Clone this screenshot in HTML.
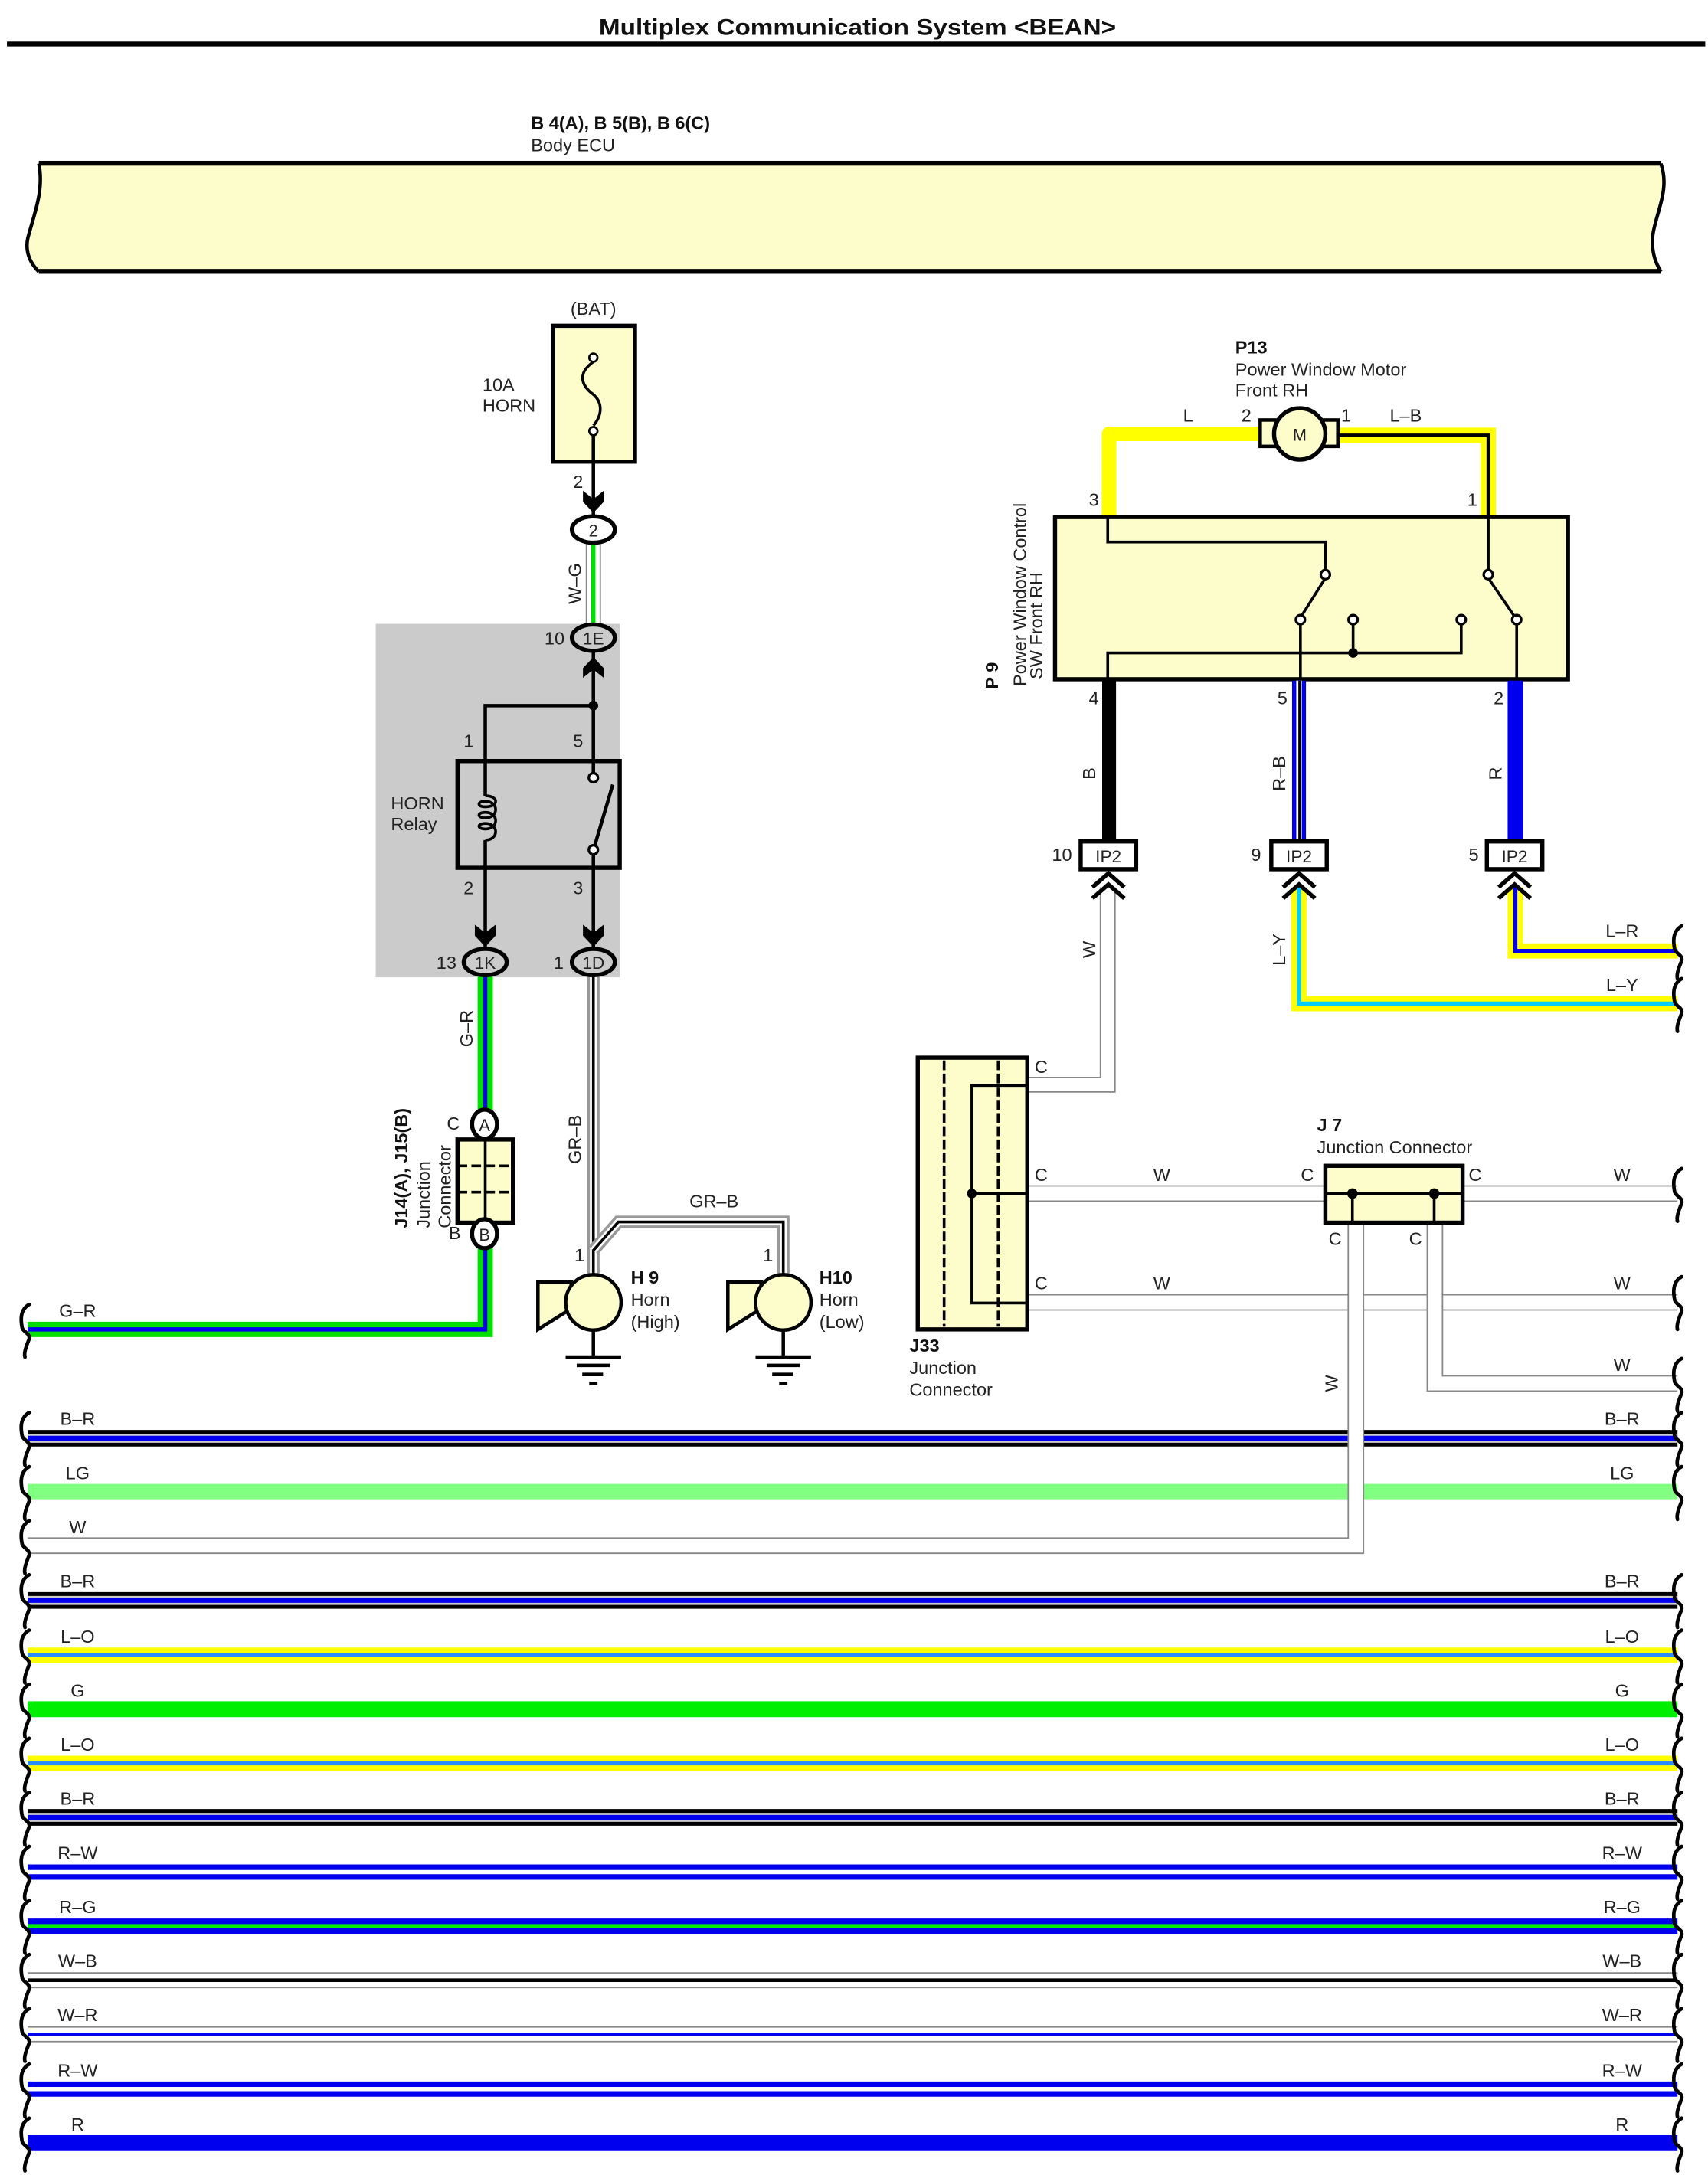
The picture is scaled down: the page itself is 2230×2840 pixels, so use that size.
<!DOCTYPE html>
<html><head><meta charset="utf-8"><style>
html,body{margin:0;padding:0;background:#fff;}
svg{display:block;}
text{font-family:"Liberation Sans",Arial,sans-serif;fill:#222;}
.b{font-weight:bold;fill:#111;}
</style></head><body>
<svg width="2230" height="2840" viewBox="0 0 1232 1569" preserveAspectRatio="none" xmlns="http://www.w3.org/2000/svg">
<rect width="1232" height="1569" fill="#fff"/>
<!-- title -->
<text x="432" y="25" font-size="16.5" class="b" textLength="373" lengthAdjust="spacingAndGlyphs">Multiplex Communication System &lt;BEAN&gt;</text>
<rect x="5" y="30" width="1225" height="3.5" fill="#000"/>

<!-- ECU -->
<text x="383" y="93" font-size="13" class="b">B 4(A), B 5(B), B 6(C)</text>
<text x="383" y="109" font-size="13">Body ECU</text>
<path d="M28,118 L1198,118 C1206,140 1190,160 1192,178 C1193,188 1196,192 1198,196 L28,196 C22,190 18,182 20,172 C24,156 32,138 28,118 Z" fill="#fdfdcb" stroke="none"/>
<path d="M28,118 C32,138 24,156 20,172 C18,182 22,190 28,196" fill="none" stroke="#000" stroke-width="2.5"/>
<path d="M1198,118 C1206,140 1190,160 1192,178 C1193,188 1196,192 1198,196" fill="none" stroke="#000" stroke-width="2.5"/>
<rect x="28" y="116" width="1170" height="3.5" fill="#000"/>
<rect x="28" y="194" width="1170" height="3.5" fill="#000"/>

<!-- gray relay area -->
<rect x="271" y="450" width="176" height="255" fill="#cbcbcb"/>

<!-- fuse -->
<text x="428" y="227" font-size="13" text-anchor="middle">(BAT)</text>
<text x="348" y="282" font-size="13">10A</text>
<text x="348" y="297" font-size="13">HORN</text>
<rect x="399" y="235" width="59" height="98" fill="#fdfdcb" stroke="#000" stroke-width="3"/>
<path d="M428,261 C418,268 418,276 426,283 C436,290 434,300 428,307" fill="none" stroke="#000" stroke-width="2"/>
<circle cx="428" cy="258" r="3" fill="#fff" stroke="#000" stroke-width="1.5"/>
<circle cx="428" cy="311" r="3" fill="#fff" stroke="#000" stroke-width="1.5"/>
<line x1="428" y1="314" x2="428" y2="372" stroke="#000" stroke-width="2.5"/>
<text x="417" y="352" font-size="13" text-anchor="middle">2</text>
<path d="M420.5,354 L428,360 L435.5,354 L435.5,362 L428,370 L420.5,362 Z" fill="#000"/>

<!-- W-G -->
<line x1="428" y1="390" x2="428" y2="452" stroke="#888" stroke-width="11"/>
<line x1="428" y1="390" x2="428" y2="452" stroke="#fff" stroke-width="9"/>
<line x1="428" y1="390" x2="428" y2="452" stroke="#00dd00" stroke-width="3"/>
<text transform="translate(419,421) rotate(-90)" font-size="13" text-anchor="middle">W–G</text>
<ellipse cx="428" cy="382" rx="15.5" ry="9.5" fill="#fff" stroke="#000" stroke-width="3"/>
<text x="428" y="387" font-size="12" text-anchor="middle">2</text>

<!-- 1E -->
<text x="400" y="465" font-size="13" text-anchor="middle">10</text>
<line x1="428" y1="470" x2="428" y2="548" stroke="#000" stroke-width="2.5"/>
<path d="M420.5,489 L428,483 L435.5,489 L435.5,482 L428,474 L420.5,482 Z" fill="#000"/>
<ellipse cx="428" cy="460" rx="15.5" ry="9.5" fill="#cbcbcb" stroke="#000" stroke-width="3"/>
<text x="428" y="465" font-size="12.5" text-anchor="middle">1E</text>

<!-- relay -->
<polyline points="428,509 350,509 350,548" fill="none" stroke="#000" stroke-width="2.5"/>
<circle cx="428" cy="509" r="3.5" fill="#000"/>
<text x="338" y="539" font-size="13" text-anchor="middle">1</text>
<text x="417" y="539" font-size="13" text-anchor="middle">5</text>
<text x="282" y="584" font-size="13">HORN</text>
<text x="282" y="599" font-size="13">Relay</text>
<rect x="330" y="549" width="117" height="77" fill="#cbcbcb" stroke="#000" stroke-width="3"/>
<line x1="350" y1="549" x2="350" y2="574" stroke="#000" stroke-width="2.5"/>
<line x1="350" y1="606" x2="350" y2="626" stroke="#000" stroke-width="2.5"/>
<path d="M350,574 C360,574 360,582 350,582 C344,582 344,578 350,578 C360,578 360,590 350,590 C344,590 344,586 350,586 C360,586 360,598 350,598 C344,598 344,594 350,594 C360,594 360,606 350,606" fill="none" stroke="#000" stroke-width="2"/>
<line x1="428" y1="549" x2="428" y2="558" stroke="#000" stroke-width="2.5"/>
<line x1="428" y1="617" x2="428" y2="626" stroke="#000" stroke-width="2.5"/>
<line x1="429" y1="610" x2="442" y2="566" stroke="#000" stroke-width="2.5"/>
<circle cx="428" cy="561" r="3.3" fill="#fff" stroke="#000" stroke-width="1.8"/>
<circle cx="428" cy="613" r="3.3" fill="#fff" stroke="#000" stroke-width="1.8"/>
<text x="338" y="645" font-size="13" text-anchor="middle">2</text>
<text x="417" y="645" font-size="13" text-anchor="middle">3</text>
<line x1="350" y1="626" x2="350" y2="686" stroke="#000" stroke-width="2.5"/>
<line x1="428" y1="626" x2="428" y2="686" stroke="#000" stroke-width="2.5"/>
<path d="M342.5,667 L350,673 L357.5,667 L357.5,675 L350,683 L342.5,675 Z" fill="#000"/>
<path d="M420.5,667 L428,673 L435.5,667 L435.5,675 L428,683 L420.5,675 Z" fill="#000"/>

<!-- G-R wire -->
<polyline points="350,703 350,959 20,959" fill="none" stroke="#00e000" stroke-width="11"/>
<polyline points="350,703 350,959 20,959" fill="none" stroke="#0000ee" stroke-width="3"/>
<text transform="translate(341,742) rotate(-90)" font-size="13" text-anchor="middle">G–R</text>
<text x="56" y="950" font-size="13" text-anchor="middle">G–R</text>
<!-- GR-B wire -->
<polyline points="428,703 428,919" fill="none" stroke="#999" stroke-width="9"/>
<polyline points="428,703 428,919" fill="none" stroke="#fff" stroke-width="5"/>
<polyline points="428,703 428,919" fill="none" stroke="#000" stroke-width="2"/>
<polyline points="428,902 446,881.5 565,881.5 565,919" fill="none" stroke="#999" stroke-width="9"/>
<polyline points="428,902 446,881.5 565,881.5 565,919" fill="none" stroke="#fff" stroke-width="5"/>
<polyline points="428,902 446,881.5 565,881.5 565,919" fill="none" stroke="#000" stroke-width="2"/>
<text transform="translate(419,822) rotate(-90)" font-size="13" text-anchor="middle">GR–B</text>
<text x="515" y="871" font-size="13" text-anchor="middle">GR–B</text>
<text x="418" y="910" font-size="13" text-anchor="middle">1</text>
<text x="554" y="910" font-size="13" text-anchor="middle">1</text>

<ellipse cx="350" cy="694" rx="15.5" ry="9.5" fill="#cbcbcb" stroke="#000" stroke-width="3"/>
<text x="350" y="699" font-size="12.5" text-anchor="middle">1K</text>
<ellipse cx="428" cy="694" rx="15.5" ry="9.5" fill="#cbcbcb" stroke="#000" stroke-width="3"/>
<text x="428" y="699" font-size="12.5" text-anchor="middle">1D</text>
<text x="322" y="699" font-size="13" text-anchor="middle">13</text>
<text x="403" y="699" font-size="13" text-anchor="middle">1</text>

<!-- J14 -->
<rect x="330" y="822" width="40" height="60" fill="#fdfdcb" stroke="#000" stroke-width="3"/>
<line x1="350" y1="822" x2="350" y2="882" stroke="#000" stroke-width="2"/>
<line x1="330" y1="841" x2="370" y2="841" stroke="#000" stroke-width="2" stroke-dasharray="7,3"/>
<line x1="330" y1="860" x2="370" y2="860" stroke="#000" stroke-width="2" stroke-dasharray="7,3"/>
<ellipse cx="349.5" cy="811" rx="9" ry="10.5" fill="#fff" stroke="#000" stroke-width="3"/>
<text x="349.5" y="816" font-size="12" text-anchor="middle">A</text>
<ellipse cx="349.5" cy="890" rx="9" ry="10.5" fill="#fff" stroke="#000" stroke-width="3"/>
<text x="349.5" y="895" font-size="12" text-anchor="middle">B</text>
<text x="327" y="815" font-size="13" text-anchor="middle">C</text>
<text x="328" y="894" font-size="13" text-anchor="middle">B</text>
<text transform="translate(294,886) rotate(-90)" font-size="13" class="b">J14(A), J15(B)</text>
<text transform="translate(310,886) rotate(-90)" font-size="13">Junction</text>
<text transform="translate(325,886) rotate(-90)" font-size="13">Connector</text>

<!-- Horns -->
<g stroke="#000" stroke-width="2.5" fill="#fdfdcb">
<polygon points="388,925 412,925 412,944 388,959"/>
<circle cx="428" cy="939.5" r="20"/>
<polygon points="525,925 549,925 549,944 525,959"/>
<circle cx="565" cy="939.5" r="20"/>
</g>
<g stroke="#000" stroke-width="2.5">
<line x1="428" y1="960" x2="428" y2="979"/>
<line x1="408" y1="979" x2="448" y2="979"/>
<line x1="416" y1="985" x2="440" y2="985"/>
<line x1="420" y1="991.5" x2="435" y2="991.5"/>
<line x1="425" y1="998" x2="431" y2="998"/>
<line x1="565" y1="960" x2="565" y2="979"/>
<line x1="545" y1="979" x2="585" y2="979"/>
<line x1="553" y1="985" x2="577" y2="985"/>
<line x1="557" y1="991.5" x2="572" y2="991.5"/>
<line x1="562" y1="998" x2="568" y2="998"/>
</g>
<text x="455" y="926" font-size="13" class="b">H 9</text>
<text x="455" y="942" font-size="13">Horn</text>
<text x="455" y="958" font-size="13">(High)</text>
<text x="591" y="926" font-size="13" class="b">H10</text>
<text x="591" y="942" font-size="13">Horn</text>
<text x="591" y="958" font-size="13">(Low)</text>

<!-- P13 motor -->
<text x="891" y="255" font-size="13" class="b">P13</text>
<text x="891" y="271" font-size="13">Power Window Motor</text>
<text x="891" y="286" font-size="13">Front RH</text>
<polyline points="909,313 800,313 800,373" fill="none" stroke="#ffff00" stroke-width="10.5" stroke-linejoin="round"/>
<polyline points="965,314 1073.5,314 1073.5,373" fill="none" stroke="#ffff00" stroke-width="11"/>
<polyline points="965,314 1073.5,314 1073.5,373" fill="none" stroke="#000" stroke-width="2.5"/>
<rect x="909" y="303" width="15" height="19" fill="#fdfdcb" stroke="#000" stroke-width="2.5"/>
<rect x="951" y="303" width="14" height="19" fill="#fdfdcb" stroke="#000" stroke-width="2.5"/>
<circle cx="937.5" cy="313" r="18.5" fill="#fdfdcb" stroke="#000" stroke-width="3"/>
<text x="937.5" y="318" font-size="12" text-anchor="middle">M</text>
<text x="857" y="304" font-size="13" text-anchor="middle">L</text>
<text x="899" y="304" font-size="13" text-anchor="middle">2</text>
<text x="971" y="304" font-size="13" text-anchor="middle">1</text>
<text x="1014" y="304" font-size="13" text-anchor="middle">L–B</text>
<text x="789" y="365" font-size="13" text-anchor="middle">3</text>
<text x="1062" y="365" font-size="13" text-anchor="middle">1</text>

<!-- P9 -->
<text transform="translate(720,497) rotate(-90)" font-size="13" class="b">P 9</text>
<text transform="translate(740,495) rotate(-90)" font-size="13">Power Window Control</text>
<text transform="translate(752,490) rotate(-90)" font-size="13">SW Front RH</text>
<rect x="761" y="373" width="370" height="117" fill="#fdfdcb" stroke="#000" stroke-width="3"/>
<g stroke="#000" stroke-width="2" fill="none">
<polyline points="799,373 799,391 956,391 956,411"/>
<line x1="956" y1="417" x2="939" y2="444"/>
<polyline points="938,450 938,490"/>
<polyline points="799,490 799,471 1054,471 1054,450"/>
<line x1="976" y1="450" x2="976" y2="471"/>
<polyline points="1073.5,373 1073.5,411"/>
<line x1="1073.5" y1="417" x2="1092" y2="444"/>
<line x1="1094" y1="450" x2="1094" y2="490"/>
</g>
<g fill="#fff" stroke="#000" stroke-width="1.8">
<circle cx="956" cy="414.5" r="3.3"/><circle cx="938" cy="447" r="3.3"/>
<circle cx="976" cy="447" r="3.3"/><circle cx="1054" cy="447" r="3.3"/>
<circle cx="1073.5" cy="414.5" r="3.3"/><circle cx="1094" cy="447" r="3.3"/>
</g>
<circle cx="976" cy="471" r="3.5" fill="#000"/>

<!-- P9 output wires -->
<line x1="800" y1="491" x2="800" y2="607" stroke="#000" stroke-width="10"/>
<line x1="937" y1="491" x2="937" y2="607" stroke="#0000ee" stroke-width="10"/>
<line x1="937" y1="491" x2="937" y2="607" stroke="#fff" stroke-width="4"/>
<line x1="937.5" y1="491" x2="937.5" y2="607" stroke="#000" stroke-width="2"/>
<line x1="1093" y1="491" x2="1093" y2="607" stroke="#0000ee" stroke-width="11"/>
<text x="789" y="508" font-size="13" text-anchor="middle">4</text>
<text x="925" y="508" font-size="13" text-anchor="middle">5</text>
<text x="1081" y="508" font-size="13" text-anchor="middle">2</text>
<text transform="translate(790,558) rotate(-90)" font-size="13" text-anchor="middle">B</text>
<text transform="translate(927,558) rotate(-90)" font-size="13" text-anchor="middle">R–B</text>
<text transform="translate(1083,558) rotate(-90)" font-size="13" text-anchor="middle">R</text>

<!-- IP2 boxes -->
<g fill="#fff" stroke="#000" stroke-width="3">
<rect x="779.5" y="607" width="40" height="20"/>
<rect x="917" y="607" width="40" height="20"/>
<rect x="1072.5" y="607" width="40" height="20"/>
</g>
<text x="799.5" y="622" font-size="12.5" text-anchor="middle">IP2</text>
<text x="937" y="622" font-size="12.5" text-anchor="middle">IP2</text>
<text x="1092.5" y="622" font-size="12.5" text-anchor="middle">IP2</text>
<text x="766" y="621" font-size="13" text-anchor="middle">10</text>
<text x="906" y="621" font-size="13" text-anchor="middle">9</text>
<text x="1063" y="621" font-size="13" text-anchor="middle">5</text>

<!-- wires below IP2 -->
<polyline points="799,640 799,782.5 741,782.5" fill="none" stroke="#888" stroke-width="11.5"/>
<polyline points="799,640 799,782.5 741,782.5" fill="none" stroke="#fff" stroke-width="9.5"/>
<polyline points="937,640 937,724 1210,724" fill="none" stroke="#ffff00" stroke-width="11"/>
<polyline points="937,640 937,724 1210,724" fill="none" stroke="#00ccff" stroke-width="3"/>
<polyline points="1093,640 1093,686 1210,686" fill="none" stroke="#ffff00" stroke-width="11"/>
<polyline points="1093,640 1093,686 1210,686" fill="none" stroke="#0000ee" stroke-width="3"/>
<g fill="none" stroke="#000" stroke-width="3">
<polyline points="788,640 799.5,630 811,640"/><polyline points="788,648 799.5,638 811,648"/>
<polyline points="925.5,640 937,630 948.5,640"/><polyline points="925.5,648 937,638 948.5,648"/>
<polyline points="1081,640 1092.5,630 1104,640"/><polyline points="1081,648 1092.5,638 1104,648"/>
</g>
<text transform="translate(790,685) rotate(-90)" font-size="13" text-anchor="middle">W</text>
<text transform="translate(927,685) rotate(-90)" font-size="13" text-anchor="middle">L–Y</text>
<text x="1170" y="676" font-size="13" text-anchor="middle">L–R</text>
<text x="1170" y="715" font-size="13" text-anchor="middle">L–Y</text>

<!-- J33 wires -->
<g fill="none" stroke="#888" stroke-width="12">
<polyline points="741,861 956,861"/><polyline points="1055,861 1210,861"/>
<polyline points="741,939.5 1210,939.5"/>
</g>
<g fill="none" stroke="#fff" stroke-width="10">
<polyline points="741,861 956,861"/><polyline points="1055,861 1210,861"/>
<polyline points="741,939.5 1210,939.5"/>
</g>

<!-- bus wires -->
<g id="bus">
<line x1="20" y1="1037.5" x2="1210" y2="1037.5" stroke="#000" stroke-width="12"/>
<line x1="20" y1="1037.5" x2="1210" y2="1037.5" stroke="#ccc" stroke-width="6.5"/>
<line x1="20" y1="1037.5" x2="1210" y2="1037.5" stroke="#0000ee" stroke-width="3.5"/>
<line x1="20" y1="1076" x2="1210" y2="1076" stroke="#80ff80" stroke-width="11"/>
<line x1="20" y1="1154.5" x2="1210" y2="1154.5" stroke="#000" stroke-width="12"/>
<line x1="20" y1="1154.5" x2="1210" y2="1154.5" stroke="#ccc" stroke-width="6.5"/>
<line x1="20" y1="1154.5" x2="1210" y2="1154.5" stroke="#0000ee" stroke-width="3.5"/>
<line x1="20" y1="1194" x2="1210" y2="1194" stroke="#ffff00" stroke-width="11"/>
<line x1="20" y1="1194" x2="1210" y2="1194" stroke="#2a8cff" stroke-width="3"/>
<line x1="20" y1="1233" x2="1210" y2="1233" stroke="#00ee00" stroke-width="11.5"/>
<line x1="20" y1="1272" x2="1210" y2="1272" stroke="#ffff00" stroke-width="11"/>
<line x1="20" y1="1272" x2="1210" y2="1272" stroke="#2a8cff" stroke-width="3"/>
<line x1="20" y1="1311" x2="1210" y2="1311" stroke="#000" stroke-width="12"/>
<line x1="20" y1="1311" x2="1210" y2="1311" stroke="#ccc" stroke-width="6.5"/>
<line x1="20" y1="1311" x2="1210" y2="1311" stroke="#0000ee" stroke-width="3.5"/>
<line x1="20" y1="1350.5" x2="1210" y2="1350.5" stroke="#0000ee" stroke-width="11"/>
<line x1="20" y1="1350.5" x2="1210" y2="1350.5" stroke="#fff" stroke-width="3"/>
<line x1="20" y1="1389.5" x2="1210" y2="1389.5" stroke="#0000ee" stroke-width="11"/>
<line x1="20" y1="1389.5" x2="1210" y2="1389.5" stroke="#00ee00" stroke-width="3"/>
<line x1="20" y1="1428.5" x2="1210" y2="1428.5" stroke="#888" stroke-width="11.5"/>
<line x1="20" y1="1428.5" x2="1210" y2="1428.5" stroke="#fff" stroke-width="9.5"/>
<line x1="20" y1="1428.5" x2="1210" y2="1428.5" stroke="#000" stroke-width="2.5"/>
<line x1="20" y1="1467.5" x2="1210" y2="1467.5" stroke="#888" stroke-width="11.5"/>
<line x1="20" y1="1467.5" x2="1210" y2="1467.5" stroke="#fff" stroke-width="9.5"/>
<line x1="20" y1="1467.5" x2="1210" y2="1467.5" stroke="#0000ee" stroke-width="2.5"/>
<line x1="20" y1="1507" x2="1210" y2="1507" stroke="#0000ee" stroke-width="11"/>
<line x1="20" y1="1507" x2="1210" y2="1507" stroke="#fff" stroke-width="3"/>
<line x1="20" y1="1546" x2="1210" y2="1546" stroke="#0000ee" stroke-width="11.5"/>
</g>

<!-- J7 vertical wires (on top of buses) -->
<polyline points="978,882 978,1115 20,1115" fill="none" stroke="#888" stroke-width="12"/>
<polyline points="978,882 978,1115 20,1115" fill="none" stroke="#fff" stroke-width="10"/>
<polyline points="1035,882 1035,998 1210,998" fill="none" stroke="#888" stroke-width="12"/>
<polyline points="1035,882 1035,998 1210,998" fill="none" stroke="#fff" stroke-width="10"/>
<text transform="translate(965,998) rotate(-90)" font-size="13" text-anchor="middle">W</text>

<!-- J33 box -->
<rect x="662" y="763" width="79" height="196" fill="#fdfdcb" stroke="#000" stroke-width="3"/>
<line x1="681" y1="765" x2="681" y2="957" stroke="#000" stroke-width="2" stroke-dasharray="7,2.5"/>
<line x1="720" y1="765" x2="720" y2="957" stroke="#000" stroke-width="2" stroke-dasharray="7,2.5"/>
<polyline points="741,783 701,783 701,940 741,940" fill="none" stroke="#000" stroke-width="2"/>
<line x1="701" y1="861" x2="741" y2="861" stroke="#000" stroke-width="2"/>
<circle cx="701" cy="861" r="3.5" fill="#000"/>
<text x="656" y="975" font-size="13" class="b">J33</text>
<text x="656" y="991" font-size="13">Junction</text>
<text x="656" y="1007" font-size="13">Connector</text>

<!-- J7 box -->
<rect x="956" y="841" width="99" height="41" fill="#fdfdcb" stroke="#000" stroke-width="3"/>
<line x1="956" y1="861" x2="1055" y2="861" stroke="#000" stroke-width="2"/>
<line x1="975.5" y1="861" x2="975.5" y2="882" stroke="#000" stroke-width="2"/>
<line x1="1034.5" y1="861" x2="1034.5" y2="882" stroke="#000" stroke-width="2"/>
<circle cx="975.5" cy="861" r="3.8" fill="#000"/>
<circle cx="1034.5" cy="861" r="3.8" fill="#000"/>
<text x="950" y="816" font-size="13" class="b">J 7</text>
<text x="950" y="832" font-size="13">Junction Connector</text>

<!-- C / W labels -->
<g font-size="13" text-anchor="middle">
<text x="751" y="774">C</text>
<text x="751" y="852">C</text>
<text x="838" y="852">W</text>
<text x="943" y="852">C</text>
<text x="1064" y="852">C</text>
<text x="1170" y="852">W</text>
<text x="963" y="898">C</text>
<text x="1021" y="898">C</text>
<text x="751" y="930">C</text>
<text x="838" y="930">W</text>
<text x="1170" y="930">W</text>
<text x="1170" y="989">W</text>
</g>

<!-- bus labels -->
<g font-size="13" text-anchor="middle">
<text x="56" y="1028">B–R</text><text x="1170" y="1028">B–R</text>
<text x="56" y="1067">LG</text><text x="1170" y="1067">LG</text>
<text x="56" y="1106">W</text>
<text x="56" y="1145">B–R</text><text x="1170" y="1145">B–R</text>
<text x="56" y="1185">L–O</text><text x="1170" y="1185">L–O</text>
<text x="56" y="1224">G</text><text x="1170" y="1224">G</text>
<text x="56" y="1263">L–O</text><text x="1170" y="1263">L–O</text>
<text x="56" y="1302">B–R</text><text x="1170" y="1302">B–R</text>
<text x="56" y="1341">R–W</text><text x="1170" y="1341">R–W</text>
<text x="56" y="1380">R–G</text><text x="1170" y="1380">R–G</text>
<text x="56" y="1419">W–B</text><text x="1170" y="1419">W–B</text>
<text x="56" y="1458">W–R</text><text x="1170" y="1458">W–R</text>
<text x="56" y="1498">R–W</text><text x="1170" y="1498">R–W</text>
<text x="56" y="1537">R</text><text x="1170" y="1537">R</text>
</g>

<!-- wavy ends -->
<g fill="none" stroke="#000" stroke-width="2.6" stroke-linecap="round">
<path d="M21,941 C14,945 15,953 16,958 C17,961 22,962 21,966 C19,971 17,976 18,979"/>
<path d="M21,1019 C14,1023 15,1031 16,1036 C17,1039 22,1040 21,1044 C19,1049 17,1054 18,1057"/>
<path d="M21,1058 C14,1062 15,1070 16,1075 C17,1078 22,1079 21,1083 C19,1088 17,1093 18,1096"/>
<path d="M21,1097 C14,1101 15,1109 16,1114 C17,1117 22,1118 21,1122 C19,1127 17,1132 18,1135"/>
<path d="M21,1136 C14,1140 15,1148 16,1153 C17,1156 22,1157 21,1161 C19,1166 17,1171 18,1174"/>
<path d="M21,1176 C14,1180 15,1188 16,1193 C17,1196 22,1197 21,1201 C19,1206 17,1211 18,1214"/>
<path d="M21,1215 C14,1219 15,1227 16,1232 C17,1235 22,1236 21,1240 C19,1245 17,1250 18,1253"/>
<path d="M21,1254 C14,1258 15,1266 16,1271 C17,1274 22,1275 21,1279 C19,1284 17,1289 18,1292"/>
<path d="M21,1293 C14,1297 15,1305 16,1310 C17,1313 22,1314 21,1318 C19,1323 17,1328 18,1331"/>
<path d="M21,1332 C14,1336 15,1344 16,1349 C17,1352 22,1353 21,1357 C19,1362 17,1367 18,1370"/>
<path d="M21,1371 C14,1375 15,1383 16,1388 C17,1391 22,1392 21,1396 C19,1401 17,1406 18,1409"/>
<path d="M21,1410 C14,1414 15,1422 16,1427 C17,1430 22,1431 21,1435 C19,1440 17,1445 18,1448"/>
<path d="M21,1449 C14,1453 15,1461 16,1466 C17,1469 22,1470 21,1474 C19,1479 17,1484 18,1487"/>
<path d="M21,1489 C14,1493 15,1501 16,1506 C17,1509 22,1510 21,1514 C19,1519 17,1524 18,1527"/>
<path d="M21,1528 C14,1532 15,1540 16,1545 C17,1548 22,1549 21,1553 C19,1558 17,1563 18,1566"/>
<path d="M1213,668 C1206,672 1207,680 1208,685 C1209,688 1214,689 1213,693 C1211,698 1209,703 1210,706"/>
<path d="M1213,706 C1206,710 1207,718 1208,723 C1209,726 1214,727 1213,731 C1211,736 1209,741 1210,744"/>
<path d="M1213,843 C1206,847 1207,855 1208,860 C1209,863 1214,864 1213,868 C1211,873 1209,878 1210,881"/>
<path d="M1213,921 C1206,925 1207,933 1208,938 C1209,941 1214,942 1213,946 C1211,951 1209,956 1210,959"/>
<path d="M1213,980 C1206,984 1207,992 1208,997 C1209,1000 1214,1001 1213,1005 C1211,1010 1209,1015 1210,1018"/>
<path d="M1213,1019 C1206,1023 1207,1031 1208,1036 C1209,1039 1214,1040 1213,1044 C1211,1049 1209,1054 1210,1057"/>
<path d="M1213,1058 C1206,1062 1207,1070 1208,1075 C1209,1078 1214,1079 1213,1083 C1211,1088 1209,1093 1210,1096"/>
<path d="M1213,1136 C1206,1140 1207,1148 1208,1153 C1209,1156 1214,1157 1213,1161 C1211,1166 1209,1171 1210,1174"/>
<path d="M1213,1176 C1206,1180 1207,1188 1208,1193 C1209,1196 1214,1197 1213,1201 C1211,1206 1209,1211 1210,1214"/>
<path d="M1213,1215 C1206,1219 1207,1227 1208,1232 C1209,1235 1214,1236 1213,1240 C1211,1245 1209,1250 1210,1253"/>
<path d="M1213,1254 C1206,1258 1207,1266 1208,1271 C1209,1274 1214,1275 1213,1279 C1211,1284 1209,1289 1210,1292"/>
<path d="M1213,1293 C1206,1297 1207,1305 1208,1310 C1209,1313 1214,1314 1213,1318 C1211,1323 1209,1328 1210,1331"/>
<path d="M1213,1332 C1206,1336 1207,1344 1208,1349 C1209,1352 1214,1353 1213,1357 C1211,1362 1209,1367 1210,1370"/>
<path d="M1213,1371 C1206,1375 1207,1383 1208,1388 C1209,1391 1214,1392 1213,1396 C1211,1401 1209,1406 1210,1409"/>
<path d="M1213,1410 C1206,1414 1207,1422 1208,1427 C1209,1430 1214,1431 1213,1435 C1211,1440 1209,1445 1210,1448"/>
<path d="M1213,1449 C1206,1453 1207,1461 1208,1466 C1209,1469 1214,1470 1213,1474 C1211,1479 1209,1484 1210,1487"/>
<path d="M1213,1489 C1206,1493 1207,1501 1208,1506 C1209,1509 1214,1510 1213,1514 C1211,1519 1209,1524 1210,1527"/>
<path d="M1213,1528 C1206,1532 1207,1540 1208,1545 C1209,1548 1214,1549 1213,1553 C1211,1558 1209,1563 1210,1566"/>
</g>
</svg>
</body></html>
